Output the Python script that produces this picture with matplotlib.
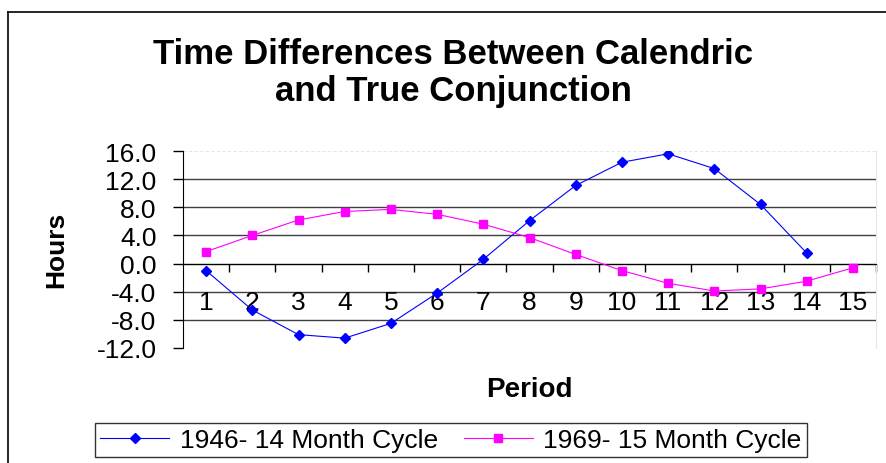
import matplotlib
matplotlib.use('Agg')
import matplotlib.pyplot as plt
from matplotlib.lines import Line2D
import numpy as np

plt.rcParams['font.family'] = ['Liberation Sans', 'DejaVu Sans']

periods = list(range(1, 16))
cycle_1946 = [-1.0, -6.6, -10.1, -10.6, -8.5, -4.2, 0.6, 6.1, 11.1, 14.4, 15.6, 13.5, 8.4, 1.5]
cycle_1969 = [1.7, 4.0, 6.2, 7.4, 7.7, 7.0, 5.6, 3.7, 1.3, -1.0, -2.8, -3.9, -3.6, -2.5, -0.6]
yticks = [16, 12, 8, 4, 0, -4, -8, -12]

W, H = 886, 464
fig = plt.figure(figsize=(W / 100, H / 100), dpi=100)
ax = fig.add_axes([183 / W, 1 - 349 / H, (876 - 183) / W, (349 - 152) / H])

# gridlines
for v in yticks[1:-1]:
    ax.axhline(v, color='#404040', lw=1.0, zorder=1)
ax.axhline(16, color='#e6e6e6', lw=0.8, ls=(0, (3, 2)), zorder=1)
ax.axhline(-12, color='#e6e6e6', lw=0.8, zorder=1)

ax.plot(periods[:len(cycle_1946)], cycle_1946, color='#0000ff', lw=0.8,
        marker='D', markersize=5.5, label='1946- 14 Month Cycle', zorder=3)
ax.plot(periods, cycle_1969, color='#ff00ff', lw=0.8,
        marker='s', markersize=6, label='1969- 15 Month Cycle', zorder=3)

ax.set_xlim(0.5, 15.5)
ax.set_ylim(-12, 16)
ax.set_yticks(yticks)
ax.set_yticklabels(['%.1f' % v for v in yticks])
ax.set_xticks(periods)
ax.set_xticks(np.arange(1.5, 15.6, 1.0), minor=True)

ax.spines['bottom'].set_position(('data', 0))
ax.spines['bottom'].set_color('black')
ax.spines['left'].set_color('black')
ax.spines['top'].set_visible(False)
ax.spines['right'].set_color('#e6e6e6')

ax.tick_params(axis='y', length=7, width=1, pad=12, labelsize=19, direction='out')
ax.tick_params(axis='x', which='major', length=0, pad=19, labelsize=19)
ax.tick_params(axis='x', which='minor', length=6, width=1, direction='out')

fig.text(453 / W, 1 - 73 / H, 'Time Differences Between Calendric\nand True Conjunction',
         ha='center', va='center', fontsize=25, fontweight='bold', linespacing=1.13)
fig.text(56 / W, 1 - 250 / H, 'Hours', rotation=90, ha='center', va='center',
         fontsize=19, fontweight='bold')
fig.text(529 / W, 1 - 390 / H, 'Period', ha='center', va='center',
         fontsize=20, fontweight='bold')

leg = fig.legend(loc='center', bbox_to_anchor=(451 / W, 1 - 441 / H), ncol=2,
                 fontsize=19, frameon=True, fancybox=False, edgecolor='black',
                 handlelength=2.6, handletextpad=0.4, columnspacing=1.0,
                 borderpad=0.2, borderaxespad=0)
leg.get_frame().set_linewidth(1.0)

# chart border (left and top)
fig.add_artist(Line2D([8 / W, 8 / W], [0, 1 - 13 / H], transform=fig.transFigure,
                      color='black', lw=1.2))
fig.add_artist(Line2D([8 / W, 1], [1 - 13 / H, 1 - 13 / H], transform=fig.transFigure,
                      color='black', lw=1.2))

fig.savefig('out.png', dpi=100)
